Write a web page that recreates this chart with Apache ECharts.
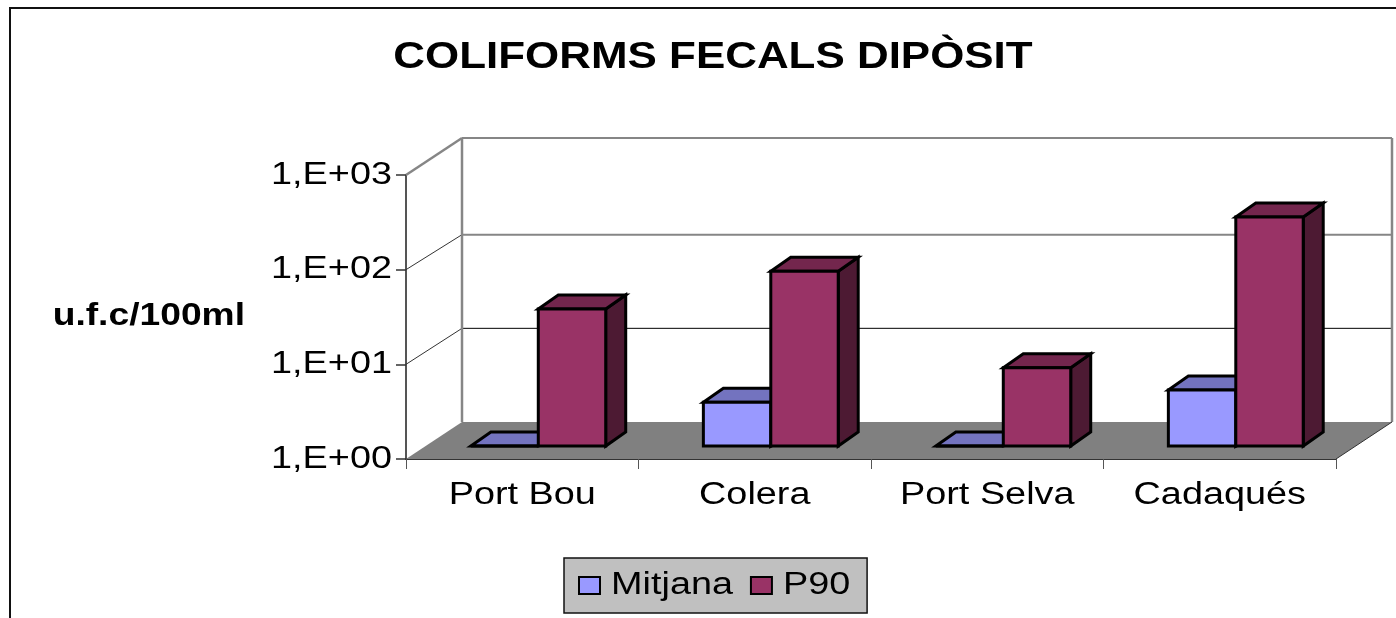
<!DOCTYPE html>
<html><head><meta charset="utf-8">
<style>html,body{margin:0;padding:0;background:#fff}#c{width:1396px;height:618px}</style>
<script src="https://cdn.jsdelivr.net/npm/echarts@6/dist/echarts.min.js"></script>
</head><body><div id="c"></div>
<script>
const categories = ['Port Bou', 'Colera', 'Port Selva', 'Cadaqués'];
const mitjana = [1, 2.9, 1, 3.9];
const p90 = [28, 70, 6.7, 262];
const yTicks = [1, 10, 100, 1000];
const yTickLabels = ['1,E+00', '1,E+01', '1,E+02', '1,E+03'];
const titleText = 'COLIFORMS FECALS DIPÒSIT';
const yName = 'u.f.c/100ml';
const FONT = '"Liberation Sans", Arial, sans-serif';
const TEXT_STRETCH = 1.22; // the reference's text is horizontally stretched

const chart = echarts.init(document.getElementById('c'));
const wallDX = 56, wallDY = -37;
const gridLift = [-37, -36, -35, -37];

function wallItem(params, api) {
  const cs = params.coordSys;
  const L = cs.x, R = cs.x + cs.width, B = cs.y + cs.height;
  const kids = [{
    type: 'polygon',
    shape: { points: [[L, B], [R, B], [R + wallDX, B + wallDY], [L + wallDX, B + wallDY]] },
    style: { fill: '#808080', stroke: null }
  }];
  const line = (x1, y1, x2, y2, c, w) => ({ type: 'line', shape: { x1, y1, x2, y2 }, style: { stroke: c, lineWidth: w } });
  yTicks.forEach((t, i) => {
    const y = api.coord([0, t])[1];
    if (i > 0) {
      const strong = i >= 2;
      const c = strong ? '#868686' : '#000';
      const w = strong ? 2 : 1;
      kids.push(line(L, y, L + wallDX, y + gridLift[i], i === 3 ? c : '#333', i === 3 ? 2.5 : 1));
      kids.push(line(L + wallDX, y + gridLift[i], R + wallDX, y + gridLift[i], c, w));
    }
  });
  const top = cs.y + wallDY;
  kids.push(line(L + wallDX, top, L + wallDX, B + wallDY, '#868686', 2.5));
  kids.push(line(R + wallDX, top, R + wallDX, B + wallDY, '#868686', 2.5));
  kids.push(line(R, B, R + wallDX, B + wallDY, '#333', 1));
  return { type: 'group', children: kids };
}

function barItem(side, front, topC, sideC) {
  return function (params, api) {
    const cat = api.value(0), val = api.value(1);
    const cw = api.size([1, 0])[0];
    const w = cw * 0.29, sx = cw * 0.069, dx = 20, dy = -14;
    const c = api.coord([cat, val]);
    const base = api.coord([cat, 1]);
    const lift = 13;
    const x0 = c[0] + sx + (side === 0 ? -w : 0), x1 = x0 + w;
    const yT = c[1] - lift, yB = base[1] - lift;
    const st = f => ({ fill: f, stroke: '#000', lineWidth: 3, lineJoin: 'miter' });
    return { type: 'group', children: [
      { type: 'polygon', shape: { points: [[x1, yT], [x1 + dx, yT + dy], [x1 + dx, yB + dy], [x1, yB]] }, style: st(sideC) },
      { type: 'polygon', shape: { points: [[x0, yT], [x0 + dx, yT + dy], [x1 + dx, yT + dy], [x1, yT]] }, style: st(topC) },
      { type: 'polygon', shape: { points: [[x0, yT], [x1, yT], [x1, yB], [x0, yB]] }, style: st(front) }
    ] };
  };
}

chart.setOption({
  animation: false,
  backgroundColor: '#fff',
  title: {
    text: titleText, left: 708, top: 35, textAlign: 'center',
    textStyle: { fontFamily: FONT, fontWeight: 'bold', fontSize: 36, color: '#000' }
  },
  graphic: [
    { type: 'polyline', silent: true, z: 0, shape: { points: [[10, 618], [10, 8], [1396, 8]] }, style: { stroke: '#111', lineWidth: 2, fill: null } }
  ],
  legend: {
    data: [{ name: 'Mitjana', icon: 'rect' }, { name: 'P90', icon: 'rect' }],
    left: 564, top: 558, orient: 'horizontal',
    padding: [12, 30, 12, 14],
    itemWidth: 21, itemHeight: 17, itemGap: 40,
    backgroundColor: '#C0C0C0', borderColor: '#111', borderWidth: 1.5,
    textStyle: { fontFamily: FONT, fontSize: 31, color: '#000', padding: [0, 0, 0, 5] }
  },
  grid: { left: 406, right: 60, top: 175, bottom: 159, containLabel: false, outerBoundsMode: 'none' },
  xAxis: {
    type: 'category', data: categories,
    axisLine: { lineStyle: { color: '#333', width: 2 } },
    axisTick: { show: true, length: 10, alignWithLabel: false, lineStyle: { color: '#555', width: 1 } },
    axisLabel: { fontFamily: FONT, fontSize: 31, color: '#000', margin: 21, interval: 0 }
  },
  yAxis: {
    type: 'log', logBase: 10, min: 1, max: 1000,
    name: yName, nameLocation: 'middle', nameRotate: 0, nameGap: 161,
    nameTextStyle: { fontFamily: FONT, fontWeight: 'bold', fontSize: 30.5, color: '#000' },
    axisLine: { show: true, lineStyle: { color: '#555', width: 2 } },
    axisTick: { show: true, length: 10, lineStyle: { color: '#333', width: 1.5 } },
    minorTick: { show: false },
    splitLine: { show: false },
    axisLabel: {
      fontFamily: FONT, fontSize: 31, color: '#000', margin: 14, padding: [3, 0, 0, 0],
      formatter: v => yTickLabels[yTicks.indexOf(Math.round(v))] || ''
    }
  },
  series: [
    { type: 'custom', name: 'walls', silent: true, z: 1, renderItem: wallItem, data: [[0, 1]], clip: false, encode: { x: 0, y: 1 } },
    { type: 'custom', name: 'Mitjana', z: 2, clip: false, itemStyle: { color: '#9999FF', borderColor: '#000', borderWidth: 2 },
      renderItem: barItem(0, '#9999FF', '#7373BF', '#4D4D80'), encode: { x: 0, y: 1 },
      data: categories.map((c, i) => [i, mitjana[i]]) },
    { type: 'custom', name: 'P90', z: 3, clip: false, itemStyle: { color: '#993366', borderColor: '#000', borderWidth: 2 },
      renderItem: barItem(1, '#993366', '#73264D', '#4D1A33'), encode: { x: 0, y: 1 },
      data: categories.map((c, i) => [i, p90[i]]) }
  ]
});

// Widen every text element about its own anchor.
const zr = chart.getZr();
zr.storage.traverse(el => {
  if (el.type === 'text') {
    el.originX = (el.style && el.style.x) || 0;
    el.scaleX = TEXT_STRETCH;
    el.markRedraw();
  }
});
zr.refreshImmediately && zr.refreshImmediately();
</script></body></html>
